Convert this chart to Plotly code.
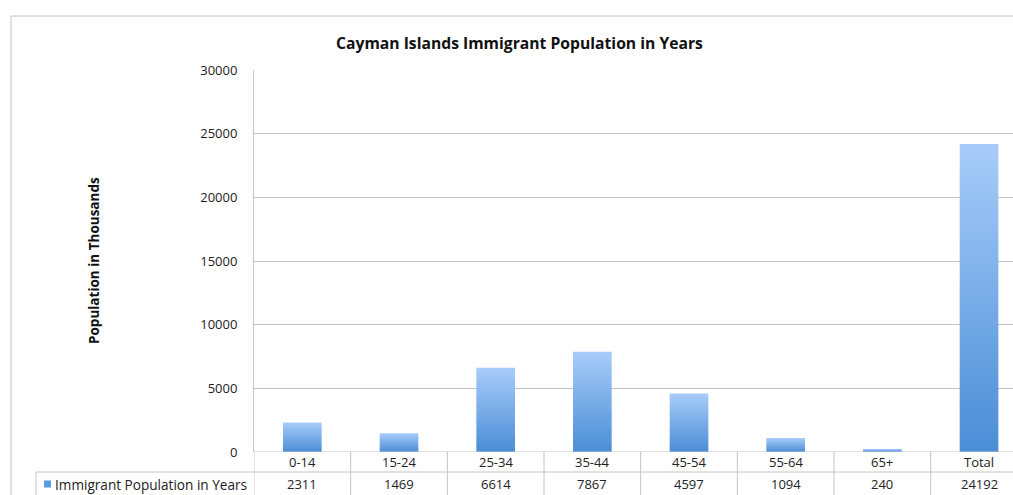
import plotly.graph_objects as go

categories = ["0-14", "15-24", "25-34", "35-44", "45-54", "55-64", "65+", "Total"]
values = [2311, 1469, 6614, 7867, 4597, 1094, 240, 24192]
series_name = "Immigrant Population in Years"
title = "Cayman Islands Immigrant Population in Years"
y_title = "Population in Thousands"
y_ticks = [0, 5000, 10000, 15000, 20000, 25000, 30000]
y_tick_text = ["0", "5000", "10000", "15000", "20000", "25000", "30000"]

W, H = 1013, 495
L, T, B = 254, 70, 43
plot_w = W - L
plot_h = H - T - B
cat_px = 96.67
x_max = -0.5 + plot_w / cat_px

def px_x(p):
    return (p - L) / plot_w

def px_y(p):
    return (H - B - p) / plot_h

FONT = "Open Sans"
GRID = "#c4c4c4"
BAR_HALF = 0.2
TXT = "#222"

fig = go.Figure()
for i, (c, v) in enumerate(zip(categories, values)):
    fig.add_trace(go.Scatter(
        x=[i - BAR_HALF, i + BAR_HALF, i + BAR_HALF, i - BAR_HALF, i - BAR_HALF],
        y=[0, 0, v, v, 0],
        mode="lines", line=dict(width=0), fill="toself",
        fillgradient=dict(type="vertical",
                          colorscale=[[0, "#4a8dd6"], [1, "#a8ccf9"]]),
        showlegend=False, hoverinfo="text", text=f"{c}: {v}",
    ))

shapes = []
line = dict(color=GRID, width=1)
# outer chart border
shapes.append(dict(type="line", xref="paper", yref="paper",
                   x0=px_x(11), x1=px_x(W + 5), y0=px_y(16), y1=px_y(16), line=line))
shapes.append(dict(type="line", xref="paper", yref="paper",
                   x0=px_x(11), x1=px_x(11), y0=px_y(16), y1=px_y(H + 5), line=line))
# table horizontal lines
shapes.append(dict(type="line", xref="paper", yref="paper",
                   x0=px_x(36), x1=px_x(W + 5), y0=px_y(472), y1=px_y(472), line=line))
shapes.append(dict(type="line", xref="paper", yref="paper",
                   x0=px_x(36), x1=px_x(36), y0=px_y(472), y1=px_y(H + 5), line=line))
# table vertical lines at category boundaries
for i in range(len(categories) + 1):
    shapes.append(dict(type="line", xref="x", yref="paper",
                       x0=i - 0.5, x1=i - 0.5, y0=0, y1=px_y(H + 5), line=line))

annotations = []
for i, (c, v) in enumerate(zip(categories, values)):
    annotations.append(dict(x=i, y=px_y(462), xref="x", yref="paper", text=c,
                            showarrow=False, font=dict(family=FONT, size=13, color=TXT),
                            xanchor="center", yanchor="middle"))
    annotations.append(dict(x=i, y=px_y(484), xref="x", yref="paper", text=str(v),
                            showarrow=False, font=dict(family=FONT, size=13, color=TXT),
                            xanchor="center", yanchor="middle"))
annotations.append(dict(x=px_x(53), y=px_y(484), xref="paper", yref="paper",
                        text=series_name, showarrow=False,
                        font=dict(family=FONT, size=13.6, color=TXT),
                        xanchor="left", yanchor="middle"))
annotations.append(dict(x=px_x(94), y=0.5, xref="paper", yref="paper",
                        text=f"<b>{y_title}</b>", textangle=-90, showarrow=False,
                        font=dict(family=FONT, size=13.5, color="#111"),
                        xanchor="center", yanchor="middle"))
annotations.append(dict(x=px_x(519), y=px_y(43), xref="paper", yref="paper",
                        text=f"<b>{title}</b>", showarrow=False,
                        font=dict(family=FONT, size=15.7, color="#111"),
                        xanchor="center", yanchor="middle"))
# legend key
shapes.append(dict(type="rect", xref="paper", yref="paper",
                   x0=px_x(44), x1=px_x(51), y0=px_y(480.5), y1=px_y(487.5),
                   fillcolor="#5b9be0", line=dict(width=0)))

fig.update_layout(
    width=W, height=H,
    margin=dict(l=L, r=0, t=T, b=B),
    paper_bgcolor="white", plot_bgcolor="white",
    xaxis=dict(range=[-0.5, x_max], showgrid=False, zeroline=False,
               showticklabels=False, ticks="", showline=False, fixedrange=True),
    yaxis=dict(range=[0, 30000], tickvals=y_ticks, ticktext=y_tick_text,
               showgrid=True, gridcolor=GRID,
               gridwidth=1, zeroline=False, showline=True, linecolor=GRID, linewidth=1,
               ticks="outside", ticklen=13, tickcolor="rgba(0,0,0,0)",
               tickfont=dict(family=FONT, size=13, color=TXT), fixedrange=True),
    shapes=shapes, annotations=annotations, showlegend=False,
)
fig.add_shape(type="line", xref="paper", yref="y", x0=0, x1=1.01, y0=0, y1=0,
              line=dict(color=GRID, width=1))

fig.write_html("out.html")
